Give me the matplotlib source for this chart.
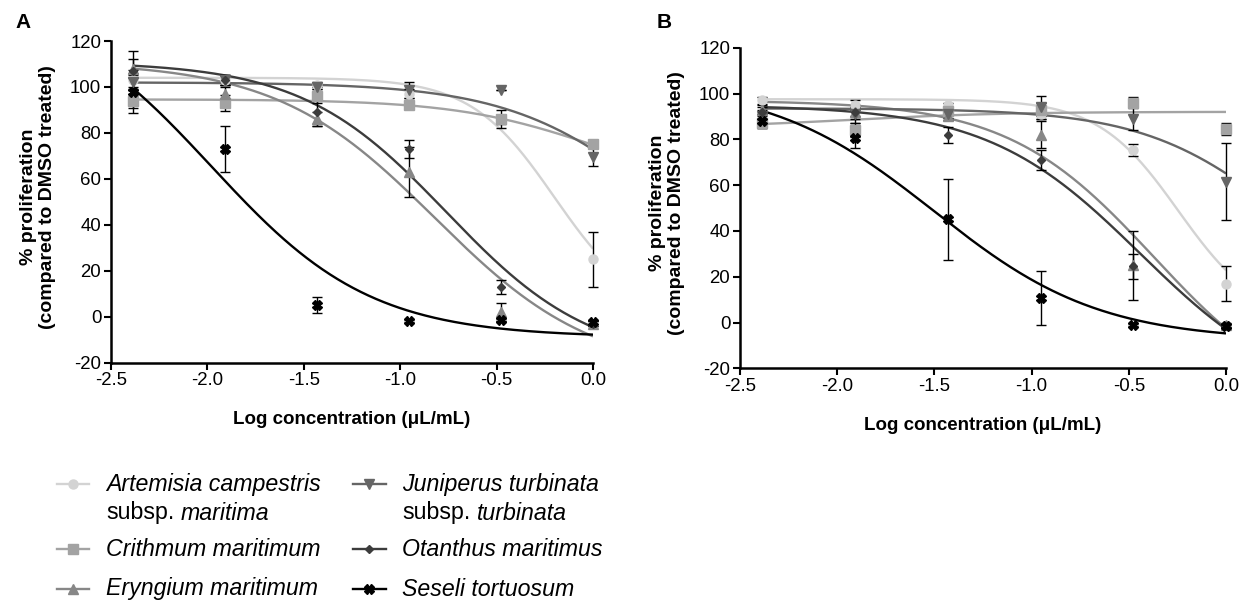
import numpy as np
import matplotlib
matplotlib.use("Agg")
import matplotlib.pyplot as plt

plt.rcParams['font.family'] = ['Liberation Sans', 'DejaVu Sans']

# ---------------- data ----------------
log_conc = [-2.386, -1.908, -1.431, -0.954, -0.477, 0.0]
x_ticks = [-2.5, -2.0, -1.5, -1.0, -0.5, 0.0]
x_tick_labels = ["-2.5", "-2.0", "-1.5", "-1.0", "-0.5", "0.0"]
y_ticks = [-20, 0, 20, 40, 60, 80, 100, 120]

species_keys = ["artemisia", "crithmum", "eryngium", "juniperus", "otanthus", "seseli"]
species_italic = ["Artemisia campestris", "Crithmum maritimum", "Eryngium maritimum",
                  "Juniperus turbinata", "Otanthus maritimus", "Seseli tortuosum"]
species_subsp = ["maritima", None, None, "turbinata", None, None]

# Panel A: mean % proliferation and error (SEM)
artemisia_A = [103, 103, 101, 97, 86, 25]
artemisia_A_err = [3, 2, 1, 2, 2, 12]
crithmum_A = [94, 93, 96, 92, 86, 75]
crithmum_A_err = [3, 3.5, 3, 1.5, 4, 1.5]
eryngium_A = [108, 97, 86, 63, 2, -3]
eryngium_A_err = [4, 3, 3, 11, 4, 1]
juniperus_A = [102, 103, 100, 98.5, 98.5, 69.5]
juniperus_A_err = [3, 2, 1, 3.5, 0, 4]
otanthus_A = [107, 103, 89, 73, 13, -3]
otanthus_A_err = [8.5, 2, 6, 4, 3, 1]
seseli_A = [98, 73, 5, -2, -1.5, -2.5]
seseli_A_err = [9.5, 10, 3.5, 0.5, 0.5, 0.5]

# Panel B
artemisia_B = [97, 95, 95, 91, 75.5, 17]
artemisia_B_err = [1.5, 2, 1, 2, 2.6, 7.8]
crithmum_B = [87, 84, 92.5, 93, 96, 84.5]
crithmum_B_err = [2, 3, 1, 3, 2.5, 2.7]
eryngium_B = [93, 92, 90, 82, 25, -1]
eryngium_B_err = [2, 3, 1.5, 6, 15, 1]
juniperus_B = [90, 91, 91, 94, 89, 61.5]
juniperus_B_err = [3, 4, 1.5, 5, 5, 16.7]
otanthus_B = [92, 92, 82, 71, 24.5, -1.5]
otanthus_B_err = [2, 2, 3.5, 4.5, 5.5, 1]
seseli_B = [88, 80.5, 45, 10.5, -1, -1.5]
seseli_B_err = [3, 4.5, 17.5, 11.8, 0.5, 0.5]

# fitted dose-response parameters: (top, bottom, logIC50, hill)
fit_A_top = [104, 94.6, 111, 102, 111, 140]
fit_A_bottom = [0, 55, -25, 0, -20, -9]
fit_A_logic50 = [-0.2, 0.0, -0.82, 0.36, -0.76, -1.98]
fit_A_hill = [2.0, 1.2, 1.05, 1.1, 1.15, 1.05]

fit_B_top = [97.5, 85, 97, 93.5, 95, 105]
fit_B_bottom = [0, 92, -40, 0, -35, -8]
fit_B_logic50 = [-0.245, -1.93, -0.37, 0.3, -0.44, -1.5]
fit_B_hill = [2.1, 1.1, 1.15, 1.2, 1.1, 1.02]

# ---------------- styles ----------------
colors = ["#d3d3d3", "#a3a3a3", "#878787", "#656565", "#3c3c3c", "#000000"]
markers = ["o", "s", "^", "v", "D", "X"]
msizes = [6.5, 6.5, 7, 7, 4.5, 7]

W, H = 1249, 603
fig = plt.figure(figsize=(W / 100, H / 100), dpi=100)


def rect(l, r, t, b):
    return [l / W, 1 - b / H, (r - l) / W, (b - t) / H]


axA = fig.add_axes(rect(111, 593, 41, 362.7))
axB = fig.add_axes(rect(740, 1226, 47.7, 368.3))

panels = [
    (axA,
     [artemisia_A, crithmum_A, eryngium_A, juniperus_A, otanthus_A, seseli_A],
     [artemisia_A_err, crithmum_A_err, eryngium_A_err, juniperus_A_err, otanthus_A_err, seseli_A_err],
     (fit_A_top, fit_A_bottom, fit_A_logic50, fit_A_hill)),
    (axB,
     [artemisia_B, crithmum_B, eryngium_B, juniperus_B, otanthus_B, seseli_B],
     [artemisia_B_err, crithmum_B_err, eryngium_B_err, juniperus_B_err, otanthus_B_err, seseli_B_err],
     (fit_B_top, fit_B_bottom, fit_B_logic50, fit_B_hill)),
]

xs = np.linspace(log_conc[0], log_conc[-1], 300)
for ax, means, errs, fits in panels:
    tops, bottoms, ics, hills = fits
    for i in range(len(species_keys)):
        yfit = bottoms[i] + (tops[i] - bottoms[i]) / (1 + 10 ** ((xs - ics[i]) * hills[i]))
        ax.plot(xs, yfit, color=colors[i], lw=1.7, zorder=2 + i * 0.1, solid_capstyle='butt')
    for i in range(len(species_keys)):
        ax.errorbar(log_conc, means[i], yerr=errs[i], fmt='none', ecolor='black',
                    elinewidth=1.0, capsize=3.8, capthick=1.0, zorder=3, clip_on=False)
        ax.plot(log_conc, means[i], ls='none', marker=markers[i], ms=msizes[i],
                color=colors[i], mec=colors[i], zorder=4 + i * 0.1, clip_on=False)

    ax.set_xlim(-2.5, 0)
    ax.set_ylim(-20, 120)
    ax.set_xticks(x_ticks)
    ax.set_xticklabels(x_tick_labels)
    ax.set_yticks(y_ticks)
    ax.set_yticklabels([str(v) for v in y_ticks])
    for s in ("top", "right"):
        ax.spines[s].set_visible(False)
    for s in ("left", "bottom"):
        ax.spines[s].set_linewidth(1.8)
    ax.tick_params(direction='out', length=5, width=1.5, labelsize=13.4, pad=2, colors='black')

# axis labels and panel letters
for ax, (l, r, t, b), letter, lpos in [
        (axA, (111, 593, 41, 362.7), "A", (23, 23)),
        (axB, (740, 1226, 47.7, 368.3), "B", (664, 22))]:
    fig.text((l - 73) / W, 1 - ((t + b) / 2 - 5) / H,
             "% proliferation\n(compared to DMSO treated)",
             rotation=90, ha='center', va='center', fontsize=14, fontweight='bold',
             multialignment='center', linespacing=1.15)
    fig.text(((l + r) / 2) / W, 1 - (b + 57) / H, "Log concentration (μL/mL)",
             ha='center', va='center', fontsize=13.5, fontweight='bold')
    fig.text(lpos[0] / W, 1 - lpos[1] / H, letter, ha='center', va='center',
             fontsize=15, fontweight='bold')

# ---------------- legend ----------------
lax = fig.add_axes([0, 0, 1, 1])
lax.set_xlim(0, W)
lax.set_ylim(H, 0)
lax.axis('off')

col_handle_x = [(57, 89), (353, 386)]
col_text_x = [106, 402]
row_y = [484, 549, 589]
line2_dy = 29
fs_leg = 16.7

for i in range(len(species_keys)):
    col, row = divmod(i, 3)
    hx0, hx1 = col_handle_x[col]
    y = row_y[row]
    lax.plot([hx0, hx1], [y, y], color=colors[i], lw=1.7)
    lax.plot([(hx0 + hx1) / 2], [y], marker=markers[i], ms=msizes[i], color=colors[i],
             mec=colors[i], ls='none')
    lax.text(col_text_x[col], y, species_italic[i], style='italic', fontsize=fs_leg,
             va='center', ha='left')
    if species_subsp[i]:
        t1 = lax.text(col_text_x[col], y + line2_dy, "subsp.", fontsize=fs_leg,
                      va='center', ha='left')
        lax.annotate(species_subsp[i], xy=(1, 0), xycoords=t1, xytext=(4.6, 0),
                     textcoords='offset points', va='bottom', ha='left',
                     style='italic', fontsize=fs_leg)

fig.savefig("out.png", dpi=100)
